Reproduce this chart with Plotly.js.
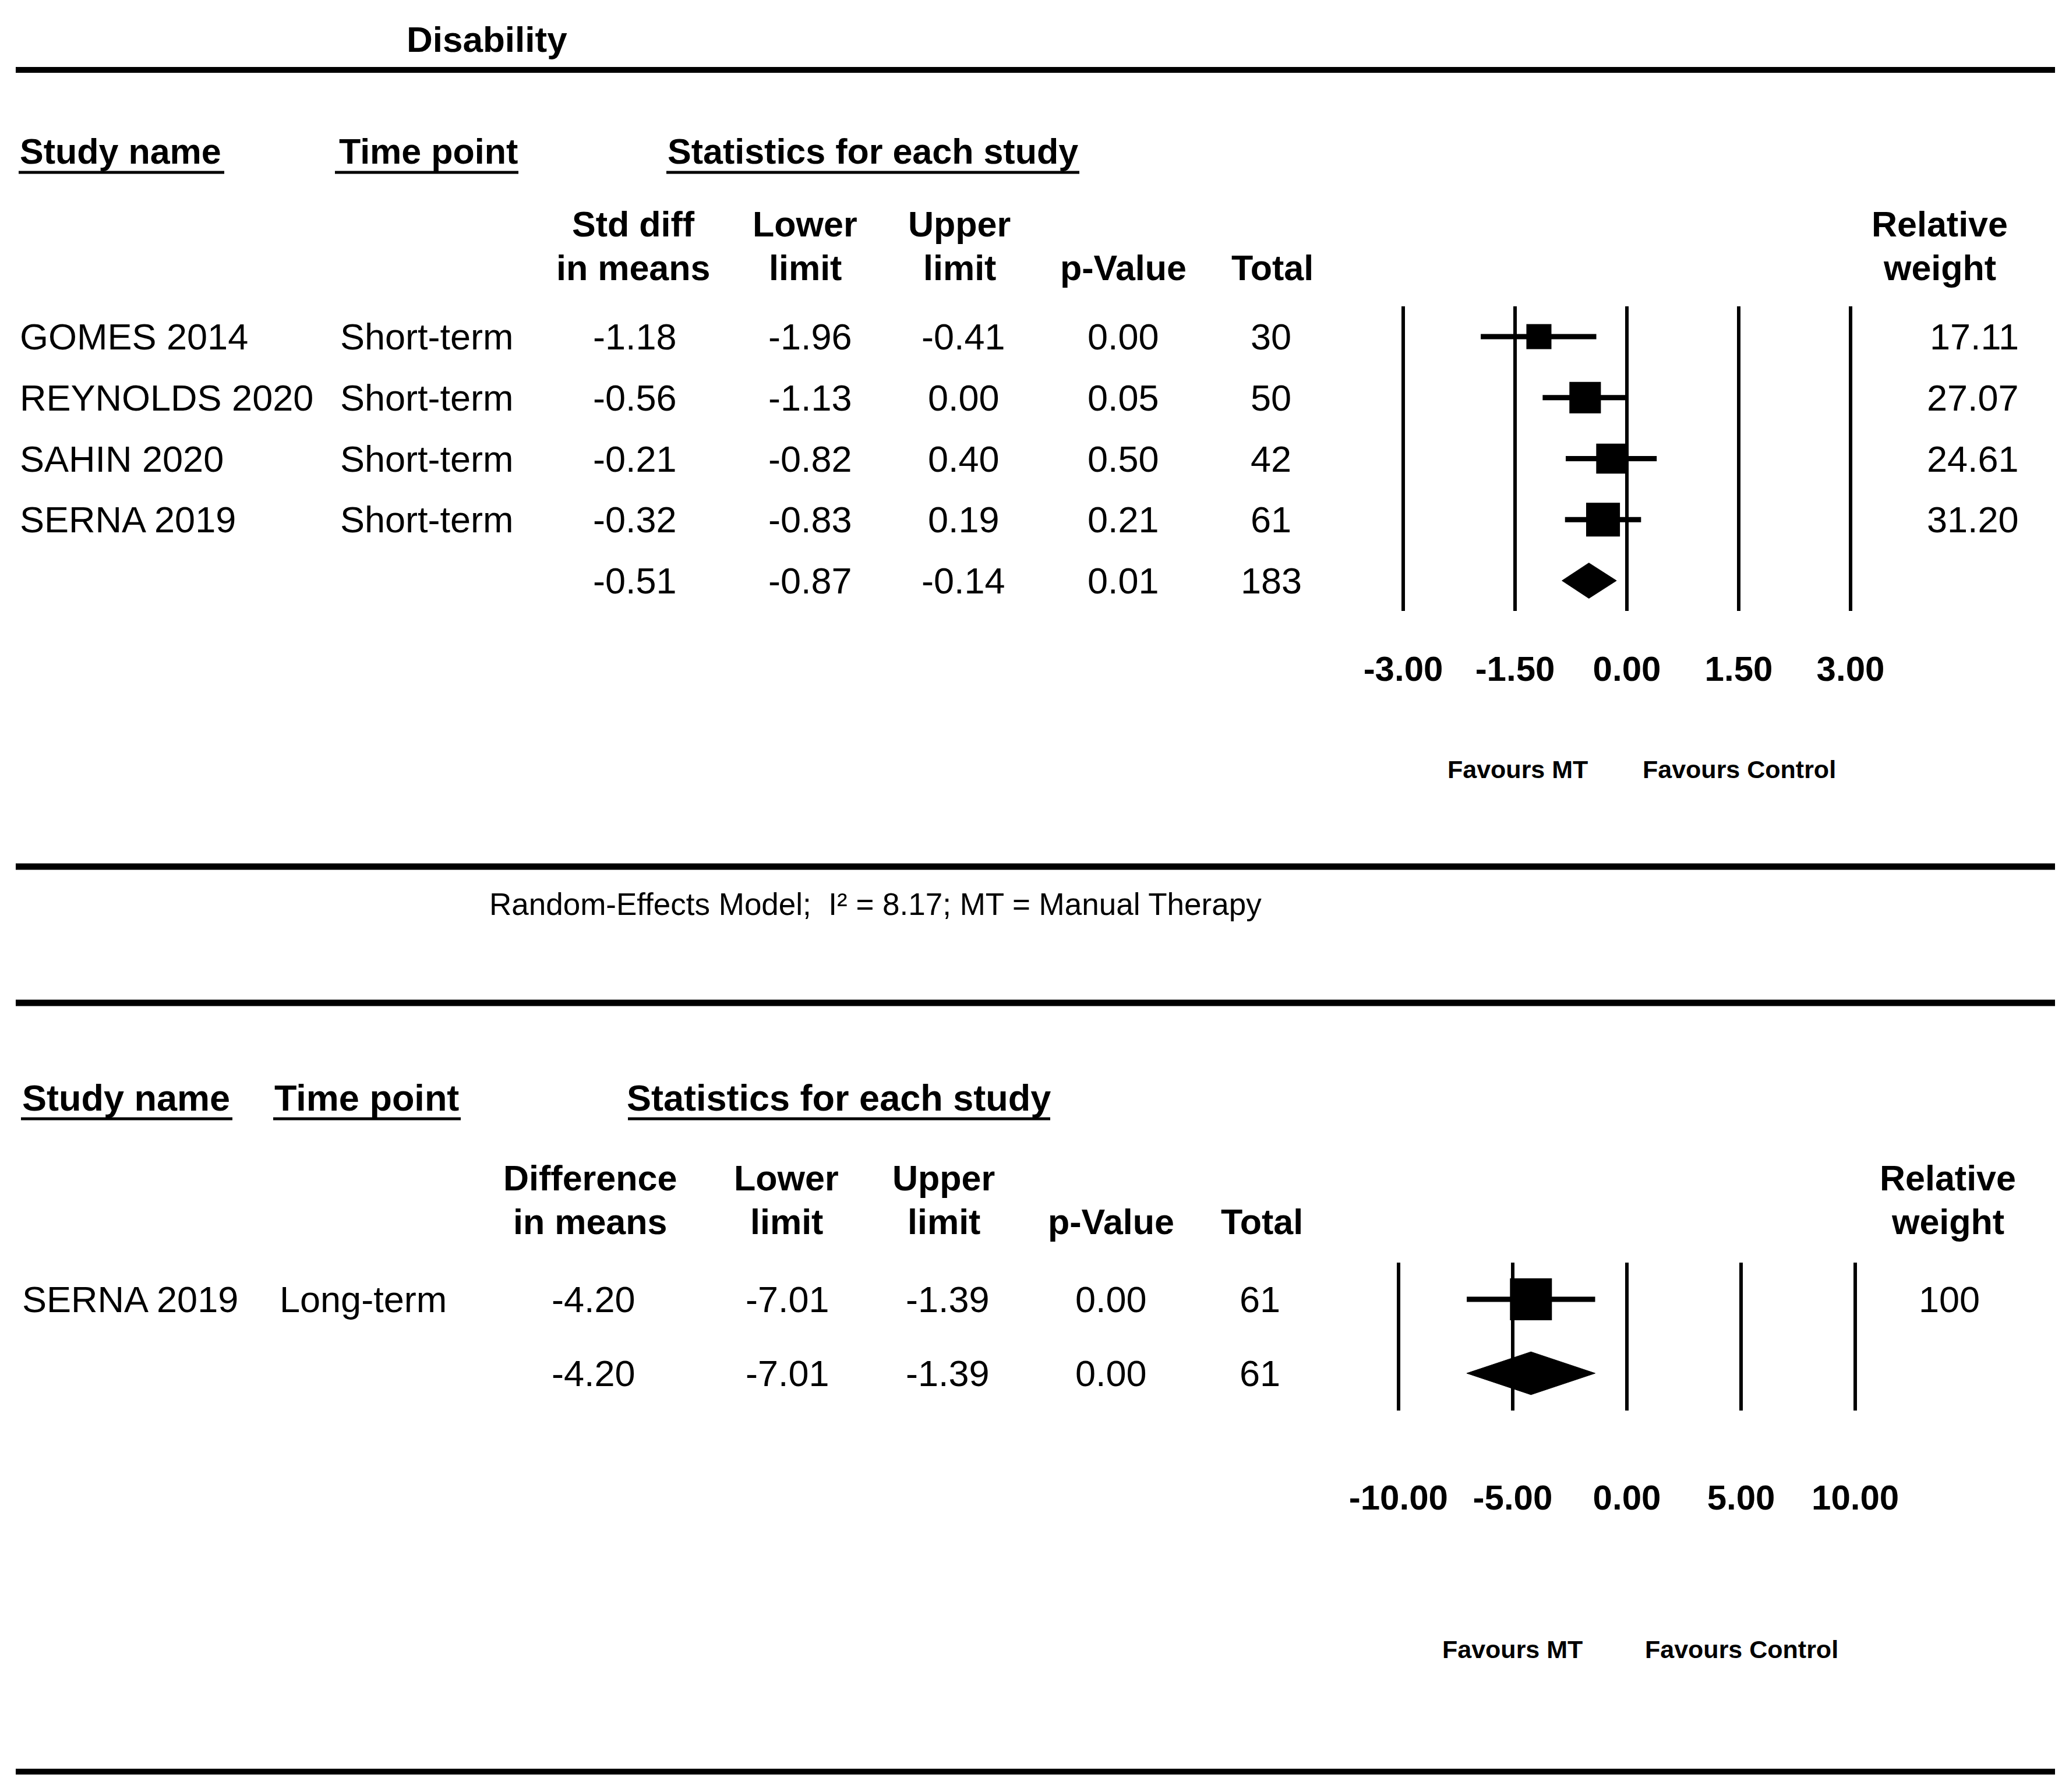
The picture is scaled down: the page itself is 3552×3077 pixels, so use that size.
<!DOCTYPE html>
<html><head><meta charset="utf-8">
<script src="https://cdn.plot.ly/plotly-3.0.1.min.js"></script>
<style>html,body{margin:0;padding:0;background:#fff;}#chart{width:3552px;height:3077px;}</style>
</head><body><div id="chart"></div>
<script>
// ---------------- DATA ----------------
const chartTitle = "Disability";
const sectionHeaders = ["Study name", "Time point", "Statistics for each study"];

// Panel 1: short-term (standardised difference in means)
const colHeaders1 = [["Std diff", "in means"], ["Lower", "limit"], ["Upper", "limit"], ["", "p-Value"], ["", "Total"], ["Relative", "weight"]];
const studies1 = ["GOMES 2014", "REYNOLDS 2020", "SAHIN 2020", "SERNA 2019"];
const timePoints1 = ["Short-term", "Short-term", "Short-term", "Short-term"];
const est1 = [-1.18, -0.56, -0.21, -0.32];
const lower1 = [-1.96, -1.13, -0.82, -0.83];
const upper1 = [-0.41, 0.00, 0.40, 0.19];
const pval1 = [0.00, 0.05, 0.50, 0.21];
const total1 = [30, 50, 42, 61];
const weight1 = [17.11, 27.07, 24.61, 31.20];
const pooled1 = [-0.51, -0.87, -0.14, 0.01, 183]; // est, lower, upper, p, total
const ticks1 = [-3.00, -1.50, 0.00, 1.50, 3.00];

// Panel 2: long-term (difference in means)
const colHeaders2 = [["Difference", "in means"], ["Lower", "limit"], ["Upper", "limit"], ["", "p-Value"], ["", "Total"], ["Relative", "weight"]];
const studies2 = ["SERNA 2019"];
const timePoints2 = ["Long-term"];
const est2 = [-4.20];
const lower2 = [-7.01];
const upper2 = [-1.39];
const pval2 = [0.00];
const total2 = [61];
const weight2 = [100];
const pooled2 = [-4.20, -7.01, -1.39, 0.00, 61];
const ticks2 = [-10.00, -5.00, 0.00, 5.00, 10.00];

const favoursLabels = ["Favours MT", "Favours Control"];
const footnote = "Random-Effects Model;\u00a0 I\u00b2 = 8.17; MT = Manual Therapy";

// ---------------- LAYOUT HELPERS ----------------
const W = 3552, H = 3077;
const px = x => x / W;
const py = y => 1 - y / H;
const FONT = "Liberation Sans, Arial, Helvetica, sans-serif";
const FB = 61;   // bold header size
const FR = 63;   // regular cell size

const annotations = [];
function addText(text, x, y, xanchor, size, bold, yref) {
  annotations.push({
    text: bold ? "<b>" + text + "</b>" : text,
    x: px(x), xref: "paper",
    y: yref ? y : py(y), yref: yref || "paper",
    xanchor: xanchor, yanchor: "middle",
    showarrow: false,
    font: {family: FONT, size: size, color: "#000"}
  });
}
const shapes = [];
function hline(x0, x1, y, w) {
  shapes.push({type: "line", xref: "paper", yref: "paper", x0: px(x0), x1: px(x1), y0: py(y), y1: py(y),
    line: {color: "#000", width: w}});
}

const f2 = v => v.toFixed(2);

// Title and rules
addText(chartTitle, 836, 68, "center", 62, true);
hline(27, 3528, 120, 10);
hline(27, 3528, 1488, 11);
hline(27, 3528, 1722, 11);
hline(27, 3528, 3042, 10);
addText(footnote, 838, 1552, "left", 53, false);

// ---------- Section builders ----------
function buildSection(cfg) {
  sectionHeaders.forEach((h, i) => {
    addText(h, cfg.secX[i], cfg.secY, "left", cfg.secF, true);
    hline(cfg.ulX[i][0], cfg.ulX[i][1], cfg.secY + 36, 5);
  });
  cfg.headers.forEach((hh, i) => {
    if (hh[0]) addText(hh[0], cfg.colX[i], cfg.hY[0], "center", FB, true);
    addText(hh[1], cfg.colX[i], cfg.hY[1], "center", FB, true);
  });
  cfg.studies.forEach((s, i) => {
    addText(s, cfg.nameX, i, "left", FR, false, cfg.yref);
    addText(cfg.times[i], cfg.timeX, i, "left", FR, false, cfg.yref);
    addText(f2(cfg.est[i]), cfg.valX[0], i, "center", FR, false, cfg.yref);
    addText(f2(cfg.lower[i]), cfg.valX[1], i, "center", FR, false, cfg.yref);
    addText(f2(cfg.upper[i]), cfg.valX[2], i, "center", FR, false, cfg.yref);
    addText(f2(cfg.pval[i]), cfg.valX[3], i, "center", FR, false, cfg.yref);
    addText(String(cfg.total[i]), cfg.valX[4], i, "center", FR, false, cfg.yref);
    addText(cfg.wfmt(cfg.weight[i]), cfg.wX, i, cfg.wAnchor, FR, false, cfg.yref);
  });
  const r = cfg.studies.length;
  for (let k = 0; k < 4; k++) addText(f2(cfg.pooled[k]), cfg.valX[k], r, "center", FR, false, cfg.yref);
  addText(String(cfg.pooled[4]), cfg.valX[4], r, "center", FR, false, cfg.yref);
  addText(favoursLabels[0], cfg.favX[0], cfg.favY, "center", 43, true);
  addText(favoursLabels[1], cfg.favX[1], cfg.favY, "center", 43, true);
}

buildSection({
  secX: [32, 580, 1144], secY: 260, secF: 61,
  ulX: [[32, 385], [575, 890], [1144, 1853]],
  headers: colHeaders1, colX: [1087, 1382, 1647, 1928, 2184, 3330], hY: [385, 460],
  studies: studies1, times: timePoints1, est: est1, lower: lower1, upper: upper1, pval: pval1, total: total1, weight: weight1,
  pooled: pooled1, nameX: 32, timeX: 582, valX: [1090, 1391, 1654, 1928, 2182], wX: 3468, wAnchor: "right",
  wfmt: f2, yref: "y", favX: [2605, 2986], favY: 1321
});
buildSection({
  secX: [36, 469, 1074], secY: 1885, secF: 63,
  ulX: [[36, 399], [469, 791], [1078, 1803]],
  headers: colHeaders2, colX: [1013, 1350, 1620, 1907, 2166, 3344], hY: [2023, 2098],
  studies: studies2, times: timePoints2, est: est2, lower: lower2, upper: upper2, pval: pval2, total: total2, weight: weight2,
  pooled: pooled2, nameX: 36, timeX: 478, valX: [1019, 1352, 1627, 1907, 2163], wX: 3346, wAnchor: "center",
  wfmt: v => String(v), yref: "y2", favX: [2596, 2990], favY: 2832
});

// ---------------- TRACES ----------------
function studyTrace(est, lower, upper, weight, k, xa, ya) {
  return {
    type: "scatter", mode: "markers", xaxis: xa, yaxis: ya,
    x: est, y: est.map((_, i) => i),
    marker: {symbol: "square", color: "#000", opacity: 1, size: weight.map(w => k * Math.sqrt(w)), line: {width: 0}},
    error_x: {type: "data", symmetric: false,
      array: upper.map((u, i) => u - est[i]), arrayminus: est.map((e, i) => e - lower[i]),
      thickness: 9, width: 0, color: "#000"},
    hoverinfo: "skip", showlegend: false
  };
}
function diamondTrace(pooled, row, h, xa, ya) {
  return {
    type: "scatter", mode: "lines", xaxis: xa, yaxis: ya, fill: "toself", fillcolor: "#000",
    x: [pooled[1], pooled[0], pooled[2], pooled[0], pooled[1]],
    y: [row, row - h, row, row + h, row],
    line: {color: "#000", width: 1}, hoverinfo: "skip", showlegend: false
  };
}

const data = [
  studyTrace(est1, lower1, upper1, weight1, 10.4, "x", "y"),
  diamondTrace(pooled1, studies1.length, 0.29, "x", "y"),
  studyTrace(est2, lower2, upper2, weight2, 7.2, "x2", "y2"),
  diamondTrace(pooled2, studies2.length, 0.29, "x2", "y2")
];

const tickFont = {family: FONT, size: 60, color: "#000"};
function xAxis(domain, range, ticks, anchor, ticklen) {
  return {
    domain: domain, range: range, anchor: anchor,
    tickmode: "array", tickvals: ticks, ticktext: ticks.map(t => "<b>" + t.toFixed(2) + "</b>"),
    showgrid: true, gridcolor: "#000", gridwidth: 6, zeroline: false, showline: false,
    ticks: "outside", ticklen: ticklen, tickcolor: "rgba(0,0,0,0)", tickfont: tickFont, fixedrange: true
  };
}

const layout = {
  width: W, height: H,
  margin: {l: 0, r: 0, t: 0, b: 0},
  paper_bgcolor: "#fff", plot_bgcolor: "#fff",
  font: {family: FONT, color: "#000"},
  showlegend: false,
  xaxis: xAxis([px(2345), px(3241)], [-3.5, 3.5], ticks1, "y", 47),
  yaxis: {domain: [py(1049.4), py(525.6)], range: [4.5, -0.5], visible: false, fixedrange: true},
  xaxis2: xAxis([px(2342), px(3244)], [-11.5, 11.5], ticks2, "y2", 97),
  yaxis2: {domain: [py(2421.5), py(2167.5)], range: [1.5, -0.5], visible: false, fixedrange: true},
  annotations: annotations,
  shapes: shapes
};

Plotly.newPlot("chart", data, layout, {displayModeBar: false, responsive: false});
</script>
</body></html>
